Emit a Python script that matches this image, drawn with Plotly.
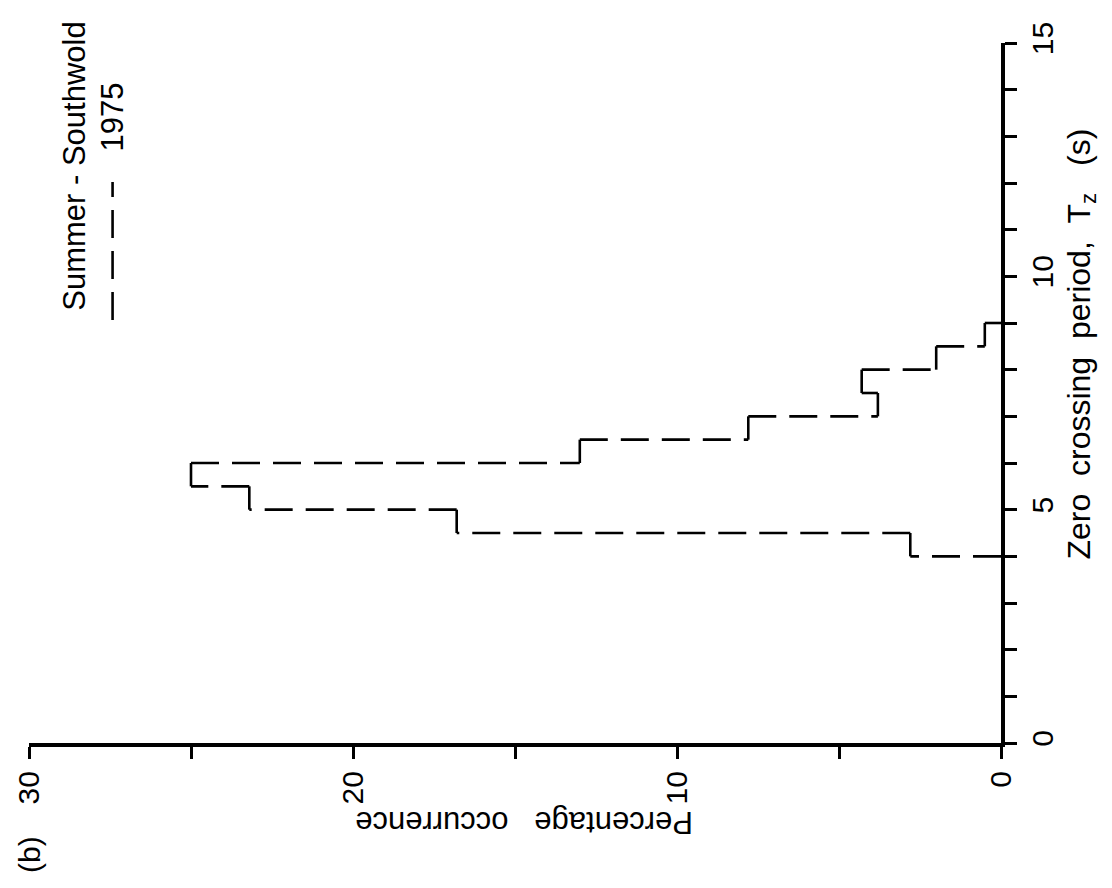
import plotly.graph_objects as go

# Zero-crossing period histogram, Southwold, summer 1975
bin_edges = [4.0, 4.5, 5.0, 5.5, 6.0, 6.5, 7.0, 7.5, 8.0, 8.5, 9.0]
occurrence = [2.8, 16.8, 23.2, 25.0, 13.0, 7.8, 3.8, 4.3, 2.0, 0.5]

period_ticks = [0, 5, 10, 15]
period_labels = ["0", "5", "10", "15"]
pct_ticks = [0, 10, 20, 30]
pct_labels = ["0", "10", "20", "30"]

W, H = 1112, 888
ML, MR, MT, MB = 24, 111, 43, 145
PW, PH = W - ML - MR, H - MT - MB


def px(x, y):
    """Pixel position on the page -> paper coordinates."""
    return (x - ML) / PW, (H - MB - y) / PH


FONT = "Liberation Sans, Arial, Helvetica, sans-serif"
DASH = "28px,13px"

# Step outline, built as separate sub-paths so the dash pattern restarts
# at every corner. Percentage runs along the horizontal axis, period up the page.
seg_x, seg_y = [], []
prev = 0
for i, v in enumerate(occurrence):
    lo, hi = bin_edges[i], bin_edges[i + 1]
    seg_x += [prev, v, None, v, v, None]
    seg_y += [lo, lo, None, lo, hi, None]
    prev = v
seg_x += [prev, 0]
seg_y += [bin_edges[-1], bin_edges[-1]]

fig = go.Figure()
fig.add_trace(go.Scatter(
    x=seg_x, y=seg_y, mode="lines", connectgaps=False,
    line=dict(color="black", width=2.6, dash=DASH),
    showlegend=False, hoverinfo="skip",
))

axis_common = dict(
    showline=True, linecolor="black", linewidth=4,
    ticks="outside", ticklen=12, tickwidth=3, tickcolor="black",
    showgrid=False, zeroline=False, tickangle=-90,
    tickfont=dict(family=FONT, size=30, color="black"),
)

fig.update_xaxes(range=[30, 0], tickmode="array", tickvals=pct_ticks,
                 ticktext=pct_labels,
                 minor=dict(ticks="outside", ticklen=12, tickwidth=3,
                            tickcolor="black", dtick=5, showgrid=False),
                 **axis_common)
fig.update_yaxes(range=[0, 15], side="right", tickmode="array",
                 tickvals=period_ticks, ticktext=period_labels,
                 minor=dict(ticks="outside", ticklen=12, tickwidth=3,
                            tickcolor="black", dtick=1, showgrid=False),
                 **axis_common)

NB = "\u00a0"
annotations = []


def note(text, x, y, angle, size=31):
    ax, ay = px(x, y)
    annotations.append(dict(
        text=text, x=ax, y=ay, xref="paper", yref="paper",
        xanchor="center", yanchor="middle", showarrow=False,
        textangle=angle, font=dict(family=FONT, size=size, color="black"),
    ))


note(f"Percentage{NB}{NB}{NB}occurrence", 521, 822, 180)
note(f"Zero{NB}{NB}crossing{NB}{NB}period,{NB}{NB}T<sub>z</sub>{NB}{NB}{NB}(s)",
     1081, 344, -90, size=32)
note(f"Summer{NB}-{NB}Southwold", 69, 166, -90)
note("1975", 107, 117, -90)
note("(b)", 24, 855, -90, size=30)

# legend sample line
lx0, ly0 = px(108, 320)
lx1, ly1 = px(108, 182)
shapes = [dict(type="line", xref="paper", yref="paper",
               x0=lx0, y0=ly0, x1=lx1, y1=ly1,
               line=dict(color="black", width=2.6, dash=DASH))]

fig.update_layout(
    width=W, height=H,
    margin=dict(l=ML, r=MR, t=MT, b=MB, pad=0),
    paper_bgcolor="white", plot_bgcolor="white",
    annotations=annotations, shapes=shapes,
    showlegend=False,
)

fig.write_html("out.html")
